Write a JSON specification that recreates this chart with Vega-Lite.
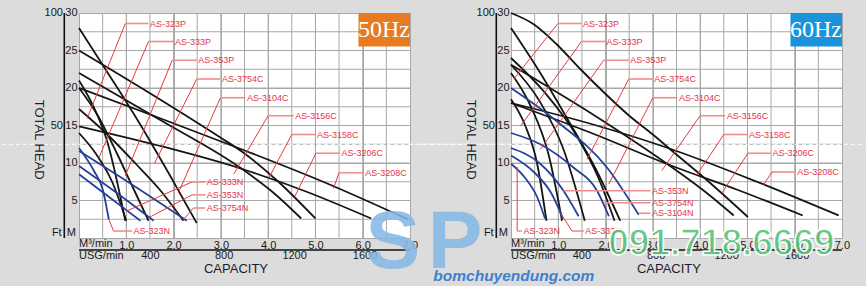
{
"$schema": "https://vega.github.io/schema/vega-lite/v6.json",
"background": "#dcdcdc",
"padding": {"left": 0, "top": 6, "right": 0, "bottom": 0},
"config": {
 "view": {"fill": "white", "stroke": "#9f9f9f", "strokeWidth": 1},
 "axis": {"labelFont": "Liberation Sans", "labelColor": "#1a1a1a", "labelFontSize": 11, "domain": false, "ticks": false, "gridColor": "#a8a8a8", "gridWidth": 1, "gridOpacity": 1},
 "text": {"font": "Liberation Sans"}
},
"datasets": {
 "gx": [{"gq":0.5},{"gq":1},{"gq":1.5},{"gq":2},{"gq":2.5},{"gq":3},{"gq":3.5},{"gq":4},{"gq":4.5},{"gq":5},{"gq":5.5},{"gq":6},{"gq":6.5}],
 "gy": [{"gh":2.5},{"gh":5},{"gh":7.5},{"gh":10},{"gh":12.5},{"gh":15},{"gh":17.5},{"gh":20},{"gh":22.5},{"gh":25},{"gh":27.5}],
 "ylab": [{"t":"30","h":30},{"t":"25","h":25},{"t":"20","h":20},{"t":"15","h":15},{"t":"10","h":10},{"t":"5","h":5}],
 "c50": [
  {"id":"L1","k":"P","q":0,"h":28},{"id":"L1","k":"P","q":0.6,"h":22.1},{"id":"L1","k":"P","q":1.25,"h":15.6},{"id":"L1","k":"P","q":1.9,"h":8.6},{"id":"L1","k":"P","q":2.49,"h":2.0},
  {"id":"L2","k":"P","q":0,"h":25},{"id":"L2","k":"P","q":1.5,"h":19.3},{"id":"L2","k":"P","q":2.99,"h":13.4},{"id":"L2","k":"P","q":3.45,"h":11.5},{"id":"L2","k":"P","q":4.2,"h":7.6},{"id":"L2","k":"P","q":5.0,"h":2.6},
  {"id":"L3","k":"P","q":0,"h":22},{"id":"L3","k":"P","q":1.7,"h":15.8},{"id":"L3","k":"P","q":3.45,"h":9.2},{"id":"L3","k":"P","q":4.1,"h":6.1},{"id":"L3","k":"P","q":4.7,"h":2.6},
  {"id":"L4","k":"P","q":0,"h":21},{"id":"L4","k":"P","q":0.3,"h":17.6},{"id":"L4","k":"P","q":0.6,"h":12.8},{"id":"L4","k":"P","q":0.98,"h":2.3},
  {"id":"L5","k":"P","q":0,"h":20},{"id":"L5","k":"P","q":1.7,"h":16.0},{"id":"L5","k":"P","q":3.45,"h":11.8},{"id":"L5","k":"P","q":5.2,"h":7.4},{"id":"L5","k":"P","q":6.95,"h":2.5},
  {"id":"L6","k":"P","q":0,"h":20},{"id":"L6","k":"P","q":0.4,"h":16.3},{"id":"L6","k":"P","q":0.8,"h":11.3},{"id":"L6","k":"P","q":1.15,"h":6.6},{"id":"L6","k":"P","q":1.47,"h":2.3},
  {"id":"L7","k":"P","q":0,"h":17.2},{"id":"L7","k":"P","q":0.6,"h":13.8},{"id":"L7","k":"P","q":1.2,"h":9.9},{"id":"L7","k":"P","q":1.7,"h":6.5},{"id":"L7","k":"P","q":2.21,"h":2.3},
  {"id":"L8","k":"P","q":0,"h":14.9},{"id":"L8","k":"P","q":1.7,"h":12.3},{"id":"L8","k":"P","q":3.45,"h":9.2},{"id":"L8","k":"P","q":4.8,"h":6.2},{"id":"L8","k":"P","q":6.18,"h":2.6},
  {"id":"L9","k":"P","q":0,"h":14},{"id":"L9","k":"P","q":0.35,"h":11.3},{"id":"L9","k":"P","q":0.7,"h":7.5},{"id":"L9","k":"P","q":1.0,"h":2.3},
  {"id":"B1","k":"N","q":0,"h":12},{"id":"B1","k":"N","q":0.32,"h":8.9},{"id":"B1","k":"N","q":0.5,"h":6.5},{"id":"B1","k":"N","q":0.63,"h":2.5},
  {"id":"B2","k":"N","q":0,"h":8.5},{"id":"B2","k":"N","q":0.65,"h":5.4},{"id":"B2","k":"N","q":1.3,"h":2.3},
  {"id":"B3","k":"N","q":0,"h":9.6},{"id":"B3","k":"N","q":0.8,"h":6.0},{"id":"B3","k":"N","q":1.58,"h":2.3},
  {"id":"B4","k":"N","q":0,"h":11.6},{"id":"B4","k":"N","q":1.15,"h":7.0},{"id":"B4","k":"N","q":2.28,"h":2.3}
 ],
 "c60": [
  {"id":"M1","k":"P","q":0,"h":30},{"id":"M1","k":"P","q":0.48,"h":28.5},{"id":"M1","k":"P","q":0.97,"h":25.8},{"id":"M1","k":"P","q":1.47,"h":22.5},{"id":"M1","k":"P","q":2.0,"h":19.2},{"id":"M1","k":"P","q":2.5,"h":16.3},{"id":"M1","k":"P","q":3.0,"h":13.8},{"id":"M1","k":"P","q":3.41,"h":11.6},{"id":"M1","k":"P","q":4.2,"h":7.4},{"id":"M1","k":"P","q":5.01,"h":2.8},
  {"id":"M2","k":"P","q":0,"h":28},{"id":"M2","k":"P","q":0.6,"h":22.2},{"id":"M2","k":"P","q":1.2,"h":15.8},{"id":"M2","k":"P","q":1.8,"h":9.1},{"id":"M2","k":"P","q":2.31,"h":2.3},
  {"id":"M3","k":"P","q":0,"h":24},{"id":"M3","k":"P","q":0.7,"h":19.5},{"id":"M3","k":"P","q":1.4,"h":13.5},{"id":"M3","k":"P","q":1.85,"h":8},{"id":"M3","k":"P","q":2.19,"h":2.3},
  {"id":"M4","k":"P","q":0,"h":23.1},{"id":"M4","k":"P","q":0.6,"h":18.3},{"id":"M4","k":"P","q":1.1,"h":12},{"id":"M4","k":"P","q":1.56,"h":2.3},
  {"id":"M5","k":"P","q":0,"h":23.1},{"id":"M5","k":"P","q":1.7,"h":16.6},{"id":"M5","k":"P","q":3.41,"h":9.4},{"id":"M5","k":"P","q":4.1,"h":6.2},{"id":"M5","k":"P","q":4.71,"h":3.0},
  {"id":"M6","k":"P","q":0,"h":22},{"id":"M6","k":"P","q":0.4,"h":17.8},{"id":"M6","k":"P","q":0.8,"h":11},{"id":"M6","k":"P","q":1.08,"h":2.3},
  {"id":"M7","k":"P","q":0,"h":18},{"id":"M7","k":"P","q":1.7,"h":15.2},{"id":"M7","k":"P","q":3.41,"h":11.8},{"id":"M7","k":"P","q":5.2,"h":7.5},{"id":"M7","k":"P","q":6.93,"h":3.0},
  {"id":"M8","k":"P","q":0,"h":18},{"id":"M8","k":"P","q":1.7,"h":14.0},{"id":"M8","k":"P","q":3.41,"h":9.6},{"id":"M8","k":"P","q":4.8,"h":6.4},{"id":"M8","k":"P","q":6.17,"h":3.0},
  {"id":"M9","k":"P","q":0,"h":18.5},{"id":"M9","k":"P","q":0.3,"h":15},{"id":"M9","k":"P","q":0.55,"h":10},{"id":"M9","k":"P","q":0.75,"h":2.3},
  {"id":"N1","k":"N","q":0,"h":9.9},{"id":"N1","k":"N","q":0.3,"h":8.0},{"id":"N1","k":"N","q":0.55,"h":5.5},{"id":"N1","k":"N","q":0.72,"h":2.6},
  {"id":"N2","k":"N","q":0,"h":11},{"id":"N2","k":"N","q":0.5,"h":8.7},{"id":"N2","k":"N","q":0.85,"h":6.0},{"id":"N2","k":"N","q":1.1,"h":2.6},
  {"id":"N3","k":"N","q":0,"h":12},{"id":"N3","k":"N","q":0.6,"h":10},{"id":"N3","k":"N","q":1.11,"h":6.3},{"id":"N3","k":"N","q":1.43,"h":2.9},
  {"id":"N4","k":"N","q":0,"h":14},{"id":"N4","k":"N","q":0.62,"h":12.5},{"id":"N4","k":"N","q":1.32,"h":9.4},{"id":"N4","k":"N","q":1.82,"h":6.3},{"id":"N4","k":"N","q":2.07,"h":2.9},
  {"id":"N5","k":"N","q":0,"h":20},{"id":"N5","k":"N","q":1.0,"h":15.4},{"id":"N5","k":"N","q":2.03,"h":9.4},{"id":"N5","k":"N","q":2.7,"h":3.1}
 ],
 "l50": [
  {"t":"AS-323P","q0":0.17,"h0":15.9,"q1":0.98,"h1":28.6,"q2":1.47},
  {"t":"AS-333P","q0":0.42,"h0":10.7,"q1":1.47,"h1":26.2,"q2":2.0},
  {"t":"AS-353P","q0":0.98,"h0":8.3,"q1":1.97,"h1":23.7,"q2":2.49},
  {"t":"AS-3754C","q0":1.6,"h0":10.0,"q1":2.49,"h1":21.2,"q2":2.99},
  {"t":"AS-3104C","q0":2.1,"h0":6.0,"q1":2.99,"h1":18.7,"q2":3.52},
  {"t":"AS-3156C","q0":3.27,"h0":8.5,"q1":4.0,"h1":16.3,"q2":4.54},
  {"t":"AS-3158C","q0":4.01,"h0":7.95,"q1":4.5,"h1":13.8,"q2":5.0},
  {"t":"AS-3206C","q0":4.57,"h0":5.6,"q1":5.01,"h1":11.3,"q2":5.52},
  {"t":"AS-3208C","q0":5.38,"h0":6.6,"q1":5.5,"h1":8.7,"q2":6.02},
  {"t":"AS-323N","q0":0.63,"h0":2.5,"q1":0.73,"h1":0.93,"q2":1.12},
  {"t":"AS-333N","q0":1.01,"h0":3.6,"q1":2.39,"h1":7.47,"q2":2.67},
  {"t":"AS-353N","q0":1.47,"h0":2.7,"q1":2.39,"h1":5.75,"q2":2.67},
  {"t":"AS-3754N","q0":2.21,"h0":2.45,"q1":2.42,"h1":4.0,"q2":2.67}
 ],
 "l60": [
  {"t":"AS-323P","q0":0.06,"h0":21.2,"q1":0.99,"h1":28.6,"q2":1.49},
  {"t":"AS-333P","q0":0.2,"h0":14.9,"q1":1.49,"h1":26.2,"q2":1.99},
  {"t":"AS-353P","q0":0.62,"h0":11.8,"q1":1.96,"h1":23.7,"q2":2.49},
  {"t":"AS-3754C","q0":1.61,"h0":10.5,"q1":2.49,"h1":21.2,"q2":3.0},
  {"t":"AS-3104C","q0":2.07,"h0":7.2,"q1":3.0,"h1":18.7,"q2":3.52},
  {"t":"AS-3156C","q0":3.19,"h0":9.0,"q1":4.0,"h1":16.3,"q2":4.53},
  {"t":"AS-3158C","q0":3.93,"h0":8.4,"q1":4.5,"h1":13.8,"q2":5.0},
  {"t":"AS-3206C","q0":4.46,"h0":6.0,"q1":5.01,"h1":11.3,"q2":5.5},
  {"t":"AS-3208C","q0":5.34,"h0":7.07,"q1":5.52,"h1":8.8,"q2":6.02},
  {"t":"AS-323N","q0":0.13,"h0":9.5,"q1":0.13,"h1":0.93,"q2":0.23},
  {"t":"AS-333N","q0":1.06,"h0":3.2,"q1":1.29,"h1":0.93,"q2":1.54},
  {"t":"AS-353N","q0":1.11,"h0":6.3,"q1":1.11,"h1":6.3,"q2":2.95},
  {"t":"AS-3754N","q0":1.96,"h0":4.7,"q1":1.96,"h1":4.7,"q2":2.95},
  {"t":"AS-3104N","q0":2.7,"h0":3.3,"q1":2.7,"h1":3.3,"q2":2.95}
 ]
},
"hconcat": [
 {
  "width": 331, "height": 225,
  "layer": [
   {"data": {"name": "gx"}, "mark": {"type": "rule", "color": "#a8a8a8", "strokeWidth": 1},
    "encoding": {"x": {"field": "gq", "type": "quantitative", "title": null, "scale": {"domain": [0, 7], "nice": false, "zero": false},
      "axis": {"values": [0,0.5,1,1.5,2,2.5,3,3.5,4,4.5,5,5.5,6,6.5,7], "grid": true, "labelExpr": "datum.value % 1 === 0 && datum.value > 0 ? format(datum.value, '.1f') : ''", "labelFlush": false, "labelOverlap": false, "labelPadding": 1}}}},
   {"data": {"name": "gy"}, "mark": {"type": "rule", "color": "#a8a8a8", "strokeWidth": 1},
    "encoding": {"y": {"field": "gh", "type": "quantitative", "title": null, "scale": {"domain": [0, 30], "nice": false, "zero": false},
      "axis": {"values": [0,2.5,5,7.5,10,12.5,15,17.5,20,22.5,25,27.5,30], "grid": true, "labels": false}}}},
   {"data": {"values": [{"q0": -1.63, "q1": 9.0, "h": 12.5}]}, "mark": {"type": "rule", "color": "white", "strokeWidth": 1, "strokeDash": [4, 3], "clip": false},
    "encoding": {"x": {"field": "q0", "type": "quantitative", "title": null}, "x2": {"field": "q1"}, "y": {"field": "h", "type": "quantitative", "title": null}}},
   {"data": {"name": "c50"}, "mark": {"type": "line", "interpolate": "monotone", "strokeWidth": 1.8},
    "encoding": {
     "x": {"field": "q", "type": "quantitative", "title": null},
     "y": {"field": "h", "type": "quantitative", "title": null},
     "detail": {"field": "id"},
     "color": {"field": "k", "type": "nominal", "scale": {"domain": ["P", "N"], "range": ["#151515", "#26409a"]}, "legend": null}
    }},
   {"data": {"name": "l50"}, "mark": {"type": "rule", "color": "#e63b3b", "strokeWidth": 1},
    "encoding": {"x": {"field": "q0", "type": "quantitative", "title": null}, "y": {"field": "h0", "type": "quantitative", "title": null}, "x2": {"field": "q1"}, "y2": {"field": "h1"}}},
   {"data": {"name": "l50"}, "mark": {"type": "rule", "color": "#f08d8d", "strokeWidth": 1.6},
    "encoding": {"x": {"field": "q1", "type": "quantitative", "title": null}, "x2": {"field": "q2"}, "y": {"field": "h1", "type": "quantitative", "title": null}}},
   {"data": {"name": "l50"}, "mark": {"type": "text", "align": "left", "baseline": "middle", "dx": 1.5, "fontSize": 9, "color": "#e8334a"},
    "encoding": {"x": {"field": "q2", "type": "quantitative", "title": null}, "y": {"field": "h1", "type": "quantitative", "title": null}, "text": {"field": "t"}}},
   {"data": {"values": [{"q0": 5.91, "q1": 7, "h0": 25.55, "h1": 30}]}, "mark": {"type": "rect", "color": "#e87a1f"},
    "encoding": {"x": {"field": "q0", "type": "quantitative", "title": null}, "x2": {"field": "q1"}, "y": {"field": "h0", "type": "quantitative", "title": null}, "y2": {"field": "h1"}}},
   {"data": {"values": [{"t": "50Hz", "q": 6.45, "h": 27.7}]}, "mark": {"type": "text", "font": "Liberation Serif", "fontSize": 24, "color": "white", "align": "center", "baseline": "middle"},
    "encoding": {"x": {"field": "q", "type": "quantitative", "title": null}, "y": {"field": "h", "type": "quantitative", "title": null}, "text": {"field": "t"}}},
   {"data": {"values": [{"q": -0.311, "h0": 0, "h1": 30}]}, "mark": {"type": "rule", "color": "#111111", "strokeWidth": 1.6, "clip": false},
    "encoding": {"x": {"field": "q", "type": "quantitative", "title": null}, "y": {"field": "h0", "type": "quantitative", "title": null}, "y2": {"field": "h1"}}},
   {"data": {"values": [{"q0": 0, "q1": 7, "h": -1.6}]}, "mark": {"type": "rule", "color": "#111111", "strokeWidth": 1.5, "clip": false},
    "encoding": {"x": {"field": "q0", "type": "quantitative", "title": null}, "x2": {"field": "q1"}, "y": {"field": "h", "type": "quantitative", "title": null}}},
   {"data": {"name": "ylab"}, "mark": {"type": "text", "align": "right", "baseline": "middle", "fontSize": 11, "color": "#1a1a1a", "clip": false},
    "encoding": {"x": {"datum": -0.03, "type": "quantitative"}, "y": {"field": "h", "type": "quantitative", "title": null}, "text": {"field": "t"}}},
   {"data": {"values": [{"t": "M³/min", "q": 0, "h": -0.8}, {"t": "USG/min", "q": 0, "h": -2.45}]}, "mark": {"type": "text", "align": "left", "baseline": "middle", "fontSize": 11, "color": "#1a1a1a", "clip": false},
    "encoding": {"x": {"field": "q", "type": "quantitative", "title": null}, "y": {"field": "h", "type": "quantitative", "title": null}, "text": {"field": "t"}}},
   {"data": {"values": [{"t": "400", "q": 1.51, "h": -2.45}, {"t": "800", "q": 3.07, "h": -2.45}, {"t": "1200", "q": 4.56, "h": -2.45}, {"t": "1600", "q": 6.05, "h": -2.45}, {"t": "Ft", "q": -0.47, "h": 0.63}, {"t": "M", "q": -0.16, "h": 0.63}]}, "mark": {"type": "text", "align": "center", "baseline": "middle", "fontSize": 11, "color": "#1a1a1a", "clip": false},
    "encoding": {"x": {"field": "q", "type": "quantitative", "title": null}, "y": {"field": "h", "type": "quantitative", "title": null}, "text": {"field": "t"}}},
   {"data": {"values": [{"t": "100", "q": -0.34, "h": 30}, {"t": "50", "q": -0.34, "h": 15}]}, "mark": {"type": "text", "align": "right", "baseline": "middle", "fontSize": 11, "color": "#1a1a1a", "clip": false},
    "encoding": {"x": {"field": "q", "type": "quantitative", "title": null}, "y": {"field": "h", "type": "quantitative", "title": null}, "text": {"field": "t"}}},
   {"data": {"values": [{"t": "CAPACITY", "q": 3.32, "h": -4.17}]}, "mark": {"type": "text", "align": "center", "baseline": "middle", "fontSize": 13, "color": "#1c1c30", "clip": false},
    "encoding": {"x": {"field": "q", "type": "quantitative", "title": null}, "y": {"field": "h", "type": "quantitative", "title": null}, "text": {"field": "t"}}},
   {"data": {"values": [{"t": "TOTAL HEAD", "q": -0.85, "h": 13.1}]}, "mark": {"type": "text", "align": "center", "baseline": "middle", "angle": 90, "fontSize": 13, "color": "#1c1c30", "clip": false},
    "encoding": {"x": {"field": "q", "type": "quantitative", "title": null}, "y": {"field": "h", "type": "quantitative", "title": null}, "text": {"field": "t"}}}
  ]
 },
 {
  "width": 331, "height": 225,
  "layer": [
   {"data": {"name": "gx"}, "mark": {"type": "rule", "color": "#a8a8a8", "strokeWidth": 1},
    "encoding": {"x": {"field": "gq", "type": "quantitative", "title": null, "scale": {"domain": [0, 7], "nice": false, "zero": false},
      "axis": {"values": [0,0.5,1,1.5,2,2.5,3,3.5,4,4.5,5,5.5,6,6.5,7], "grid": true, "labelExpr": "datum.value % 1 === 0 && datum.value > 0 ? format(datum.value, '.1f') : ''", "labelFlush": false, "labelOverlap": false, "labelPadding": 1}}}},
   {"data": {"name": "gy"}, "mark": {"type": "rule", "color": "#a8a8a8", "strokeWidth": 1},
    "encoding": {"y": {"field": "gh", "type": "quantitative", "title": null, "scale": {"domain": [0, 30], "nice": false, "zero": false},
      "axis": {"values": [0,2.5,5,7.5,10,12.5,15,17.5,20,22.5,25,27.5,30], "grid": true, "labels": false}}}},
   {"data": {"values": [{"q0": -2.14, "q1": 7.5, "h": 12.5}]}, "mark": {"type": "rule", "color": "white", "strokeWidth": 1, "strokeDash": [4, 3], "clip": false},
    "encoding": {"x": {"field": "q0", "type": "quantitative", "title": null}, "x2": {"field": "q1"}, "y": {"field": "h", "type": "quantitative", "title": null}}},
   {"data": {"name": "c60"}, "mark": {"type": "line", "interpolate": "monotone", "strokeWidth": 1.8},
    "encoding": {
     "x": {"field": "q", "type": "quantitative", "title": null},
     "y": {"field": "h", "type": "quantitative", "title": null},
     "detail": {"field": "id"},
     "color": {"field": "k", "type": "nominal", "scale": {"domain": ["P", "N"], "range": ["#151515", "#26409a"]}, "legend": null}
    }},
   {"data": {"name": "l60"}, "mark": {"type": "rule", "color": "#e63b3b", "strokeWidth": 1},
    "encoding": {"x": {"field": "q0", "type": "quantitative", "title": null}, "y": {"field": "h0", "type": "quantitative", "title": null}, "x2": {"field": "q1"}, "y2": {"field": "h1"}}},
   {"data": {"name": "l60"}, "mark": {"type": "rule", "color": "#f08d8d", "strokeWidth": 1.6},
    "encoding": {"x": {"field": "q1", "type": "quantitative", "title": null}, "x2": {"field": "q2"}, "y": {"field": "h1", "type": "quantitative", "title": null}}},
   {"data": {"name": "l60"}, "mark": {"type": "text", "align": "left", "baseline": "middle", "dx": 1.5, "fontSize": 9, "color": "#e8334a"},
    "encoding": {"x": {"field": "q2", "type": "quantitative", "title": null}, "y": {"field": "h1", "type": "quantitative", "title": null}, "text": {"field": "t"}}},
   {"data": {"values": [{"q0": 5.91, "q1": 7, "h0": 25.55, "h1": 30}]}, "mark": {"type": "rect", "color": "#1b93dc"},
    "encoding": {"x": {"field": "q0", "type": "quantitative", "title": null}, "x2": {"field": "q1"}, "y": {"field": "h0", "type": "quantitative", "title": null}, "y2": {"field": "h1"}}},
   {"data": {"values": [{"t": "60Hz", "q": 6.45, "h": 27.7}]}, "mark": {"type": "text", "font": "Liberation Serif", "fontSize": 24, "color": "white", "align": "center", "baseline": "middle"},
    "encoding": {"x": {"field": "q", "type": "quantitative", "title": null}, "y": {"field": "h", "type": "quantitative", "title": null}, "text": {"field": "t"}}},
   {"data": {"values": [{"q": -0.311, "h0": 0, "h1": 30}]}, "mark": {"type": "rule", "color": "#111111", "strokeWidth": 1.6, "clip": false},
    "encoding": {"x": {"field": "q", "type": "quantitative", "title": null}, "y": {"field": "h0", "type": "quantitative", "title": null}, "y2": {"field": "h1"}}},
   {"data": {"values": [{"q0": 0, "q1": 7, "h": -1.6}]}, "mark": {"type": "rule", "color": "#111111", "strokeWidth": 1.5, "clip": false},
    "encoding": {"x": {"field": "q0", "type": "quantitative", "title": null}, "x2": {"field": "q1"}, "y": {"field": "h", "type": "quantitative", "title": null}}},
   {"data": {"name": "ylab"}, "mark": {"type": "text", "align": "right", "baseline": "middle", "fontSize": 11, "color": "#1a1a1a", "clip": false},
    "encoding": {"x": {"datum": -0.03, "type": "quantitative"}, "y": {"field": "h", "type": "quantitative", "title": null}, "text": {"field": "t"}}},
   {"data": {"values": [{"t": "M³/min", "q": 0, "h": -0.8}, {"t": "USG/min", "q": 0, "h": -2.45}]}, "mark": {"type": "text", "align": "left", "baseline": "middle", "fontSize": 11, "color": "#1a1a1a", "clip": false},
    "encoding": {"x": {"field": "q", "type": "quantitative", "title": null}, "y": {"field": "h", "type": "quantitative", "title": null}, "text": {"field": "t"}}},
   {"data": {"values": [{"t": "400", "q": 1.5, "h": -2.45}, {"t": "800", "q": 3.07, "h": -2.45}, {"t": "1200", "q": 4.56, "h": -2.45}, {"t": "1600", "q": 6.05, "h": -2.45}, {"t": "Ft", "q": -0.47, "h": 0.63}, {"t": "M", "q": -0.16, "h": 0.63}]}, "mark": {"type": "text", "align": "center", "baseline": "middle", "fontSize": 11, "color": "#1a1a1a", "clip": false},
    "encoding": {"x": {"field": "q", "type": "quantitative", "title": null}, "y": {"field": "h", "type": "quantitative", "title": null}, "text": {"field": "t"}}},
   {"data": {"values": [{"t": "100", "q": -0.34, "h": 30}, {"t": "50", "q": -0.34, "h": 15}]}, "mark": {"type": "text", "align": "right", "baseline": "middle", "fontSize": 11, "color": "#1a1a1a", "clip": false},
    "encoding": {"x": {"field": "q", "type": "quantitative", "title": null}, "y": {"field": "h", "type": "quantitative", "title": null}, "text": {"field": "t"}}},
   {"data": {"values": [{"t": "CAPACITY", "q": 3.34, "h": -4.17}]}, "mark": {"type": "text", "align": "center", "baseline": "middle", "fontSize": 13, "color": "#1c1c30", "clip": false},
    "encoding": {"x": {"field": "q", "type": "quantitative", "title": null}, "y": {"field": "h", "type": "quantitative", "title": null}, "text": {"field": "t"}}},
   {"data": {"values": [{"t": "TOTAL HEAD", "q": -0.85, "h": 13.1}]}, "mark": {"type": "text", "align": "center", "baseline": "middle", "angle": 90, "fontSize": 13, "color": "#1c1c30", "clip": false},
    "encoding": {"x": {"field": "q", "type": "quantitative", "title": null}, "y": {"field": "h", "type": "quantitative", "title": null}, "text": {"field": "t"}}},
   {"data": {"values": [{"t": "S", "q": -2.5, "h": -6.3}, {"t": "P", "q": -1.18, "h": -6.3}]}, "mark": {"type": "text", "align": "center", "baseline": "bottom", "fontSize": 82, "fontWeight": "bold", "color": "#86b9e6", "opacity": 0.88, "clip": false},
    "encoding": {"x": {"field": "q", "type": "quantitative", "title": null}, "y": {"field": "h", "type": "quantitative", "title": null}, "text": {"field": "t"}}},
   {"data": {"values": [{"t": "bomchuyendung.com", "q": 0.06, "h": -5.1}]}, "mark": {"type": "text", "align": "center", "baseline": "middle", "fontSize": 15.5, "fontStyle": "italic", "fontWeight": "bold", "color": "#3f7fcf", "clip": false},
    "encoding": {"x": {"field": "q", "type": "quantitative", "title": null}, "y": {"field": "h", "type": "quantitative", "title": null}, "text": {"field": "t"}}},
   {"data": {"values": [{"t": "091.718.6669", "q": 4.45, "h": -0.75}]}, "mark": {"type": "text", "align": "center", "baseline": "middle", "fontSize": 37, "fontWeight": "bold", "color": "#53c176", "fillOpacity": 0.88, "stroke": "white", "strokeWidth": 1.5, "clip": false},
    "encoding": {"x": {"field": "q", "type": "quantitative", "title": null}, "y": {"field": "h", "type": "quantitative", "title": null}, "text": {"field": "t"}}}
  ]
 }
],
"spacing": 101,
"bounds": "flush"
}
